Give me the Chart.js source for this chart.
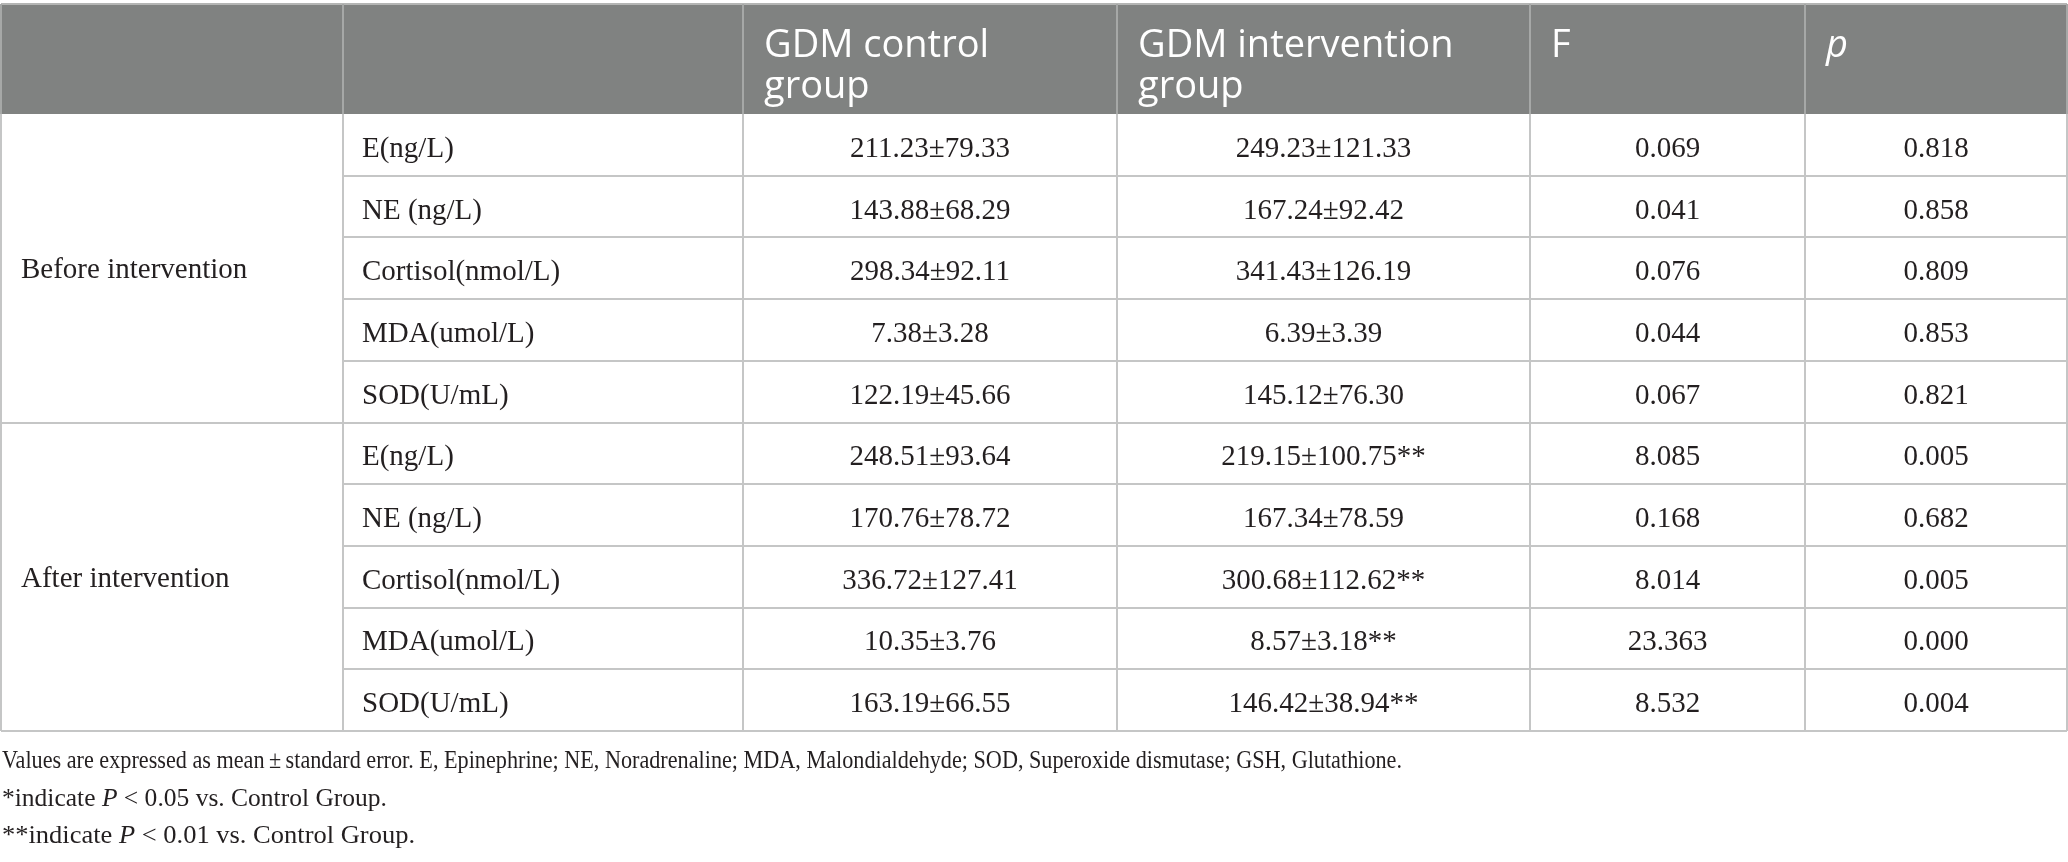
<!DOCTYPE html>
<html>
<head>
<meta charset="utf-8">
<title>GDM control vs intervention group</title>
<script src="https://cdn.jsdelivr.net/npm/chart.js@4.4.1/dist/chart.umd.min.js"></script>
<style>
  html, body { margin: 0; padding: 0; background: #ffffff; }
  #wrap { width: 2068px; height: 862px; }
</style>
</head>
<body>
<div id="wrap"><canvas id="tableChart" width="2068" height="862"></canvas></div>
<script>
// Table data
const headerLabels = [[""], [""], ["GDM control", "group"], ["GDM intervention", "group"], ["F"], ["p"]];
const periods = ["Before intervention", "After intervention"];
const indicators = ["E(ng/L)", "NE (ng/L)", "Cortisol(nmol/L)", "MDA(umol/L)", "SOD(U/mL)"];

// Before intervention
const controlMeanBefore = [211.23, 143.88, 298.34, 7.38, 122.19];
const controlSeBefore = [79.33, 68.29, 92.11, 3.28, 45.66];
const interventionMeanBefore = [249.23, 167.24, 341.43, 6.39, 145.12];
const interventionSeBefore = [121.33, 92.42, 126.19, 3.39, 76.30];
const interventionStarsBefore = ["", "", "", "", ""];
const fBefore = [0.069, 0.041, 0.076, 0.044, 0.067];
const pBefore = [0.818, 0.858, 0.809, 0.853, 0.821];

// After intervention
const controlMeanAfter = [248.51, 170.76, 336.72, 10.35, 163.19];
const controlSeAfter = [93.64, 78.72, 127.41, 3.76, 66.55];
const interventionMeanAfter = [219.15, 167.34, 300.68, 8.57, 146.42];
const interventionSeAfter = [100.75, 78.59, 112.62, 3.18, 38.94];
const interventionStarsAfter = ["**", "", "**", "**", "**"];
const fAfter = [8.085, 0.168, 8.014, 23.363, 8.532];
const pAfter = [0.005, 0.682, 0.005, 0.000, 0.004];

// Footnotes (runs with italic flag)
const footnotes = [
  [{ t: "Values are expressed as mean\u2009\u00b1\u2009standard error. E, Epinephrine; NE, Noradrenaline; MDA, Malondialdehyde; SOD, Superoxide dismutase; GSH, Glutathione." }],
  [{ t: "*indicate " }, { t: "P", i: true }, { t: " < 0.05 vs. Control Group." }],
  [{ t: "**indicate " }, { t: "P", i: true }, { t: " < 0.01 vs. Control Group." }]
];

// Layout (in scale units)
const colEdges = [1, 343, 743, 1117, 1530, 1805, 2067];
const headerTop = 4;
const headerBottom = 114;
const rowHeight = 61.7;
const headerBaselines = [57, 98];
const footBaselines = [768, 806, 843];
const footWidths = [1400, 385, 413];

const serif = '"Liberation Serif", "Times New Roman", serif';
const sans = '"Open Sans", "Noto Sans", sans-serif';

function pm(mean, se, stars) {
  return mean.toFixed(2) + "\u00b1" + se.toFixed(2) + stars;
}

// Build body rows per period
const sections = [
  { control: controlMeanBefore.map((m, i) => pm(m, controlSeBefore[i], "")),
    interv: interventionMeanBefore.map((m, i) => pm(m, interventionSeBefore[i], interventionStarsBefore[i])),
    f: fBefore, p: pBefore },
  { control: controlMeanAfter.map((m, i) => pm(m, controlSeAfter[i], "")),
    interv: interventionMeanAfter.map((m, i) => pm(m, interventionSeAfter[i], interventionStarsAfter[i])),
    f: fAfter, p: pAfter }
];

function hLine(ctx, x, y, x0, x1, yv, color) {
  const py = Math.round(y.getPixelForValue(yv));
  ctx.strokeStyle = color;
  ctx.lineWidth = 2;
  ctx.beginPath();
  ctx.moveTo(x.getPixelForValue(x0), py);
  ctx.lineTo(x.getPixelForValue(x1), py);
  ctx.stroke();
}

function vLine(ctx, x, y, xv, y0, y1, color) {
  const px = Math.round(x.getPixelForValue(xv));
  ctx.strokeStyle = color;
  ctx.lineWidth = 2;
  ctx.beginPath();
  ctx.moveTo(px, y.getPixelForValue(y0));
  ctx.lineTo(px, y.getPixelForValue(y1));
  ctx.stroke();
}

// Plugin that draws the table through the chart scales
const tablePlugin = {
  id: "tablePlugin",
  afterDraw(chart) {
    const ctx = chart.ctx;
    const x = chart.scales.x;
    const y = chart.scales.y;
    const nRows = periods.length * indicators.length;
    const bodyBottom = headerBottom + nRows * rowHeight;
    ctx.save();

    // header band
    ctx.fillStyle = "#808281";
    const hx0 = x.getPixelForValue(colEdges[0]);
    const hx1 = x.getPixelForValue(colEdges[colEdges.length - 1]);
    const hy0 = y.getPixelForValue(headerTop);
    const hy1 = y.getPixelForValue(headerBottom);
    ctx.fillRect(hx0, hy0, hx1 - hx0, hy1 - hy0);
    hLine(ctx, x, y, colEdges[0], colEdges[6], headerTop, "#b4b5b4");
    for (let c = 0; c < colEdges.length; c++) {
      vLine(ctx, x, y, colEdges[c], headerTop, headerBottom, "#a6a8a7");
    }

    // header labels
    ctx.fillStyle = "#ffffff";
    ctx.textAlign = "left";
    ctx.textBaseline = "alphabetic";
    headerLabels.forEach((lines, c) => {
      ctx.font = (c === 5 ? "italic " : "") + "38px " + sans;
      lines.forEach((line, k) => {
        ctx.fillText(line, x.getPixelForValue(colEdges[c] + 21), y.getPixelForValue(headerBaselines[k]));
      });
    });

    // body grid
    const grid = "#c5c6c6";
    for (let r = 1; r <= nRows; r++) {
      const yv = headerBottom + r * rowHeight;
      const full = r % indicators.length === 0;
      hLine(ctx, x, y, full ? colEdges[0] : colEdges[1], colEdges[6], yv, grid);
    }
    for (let c = 0; c < colEdges.length; c++) {
      vLine(ctx, x, y, colEdges[c], headerBottom, bodyBottom, grid);
    }

    // body text
    ctx.fillStyle = "#231f20";
    ctx.font = "29px " + serif;
    periods.forEach((period, s) => {
      const secTop = headerBottom + s * indicators.length * rowHeight;
      const secMid = secTop + indicators.length * rowHeight / 2;
      ctx.textAlign = "left";
      ctx.fillText(period, x.getPixelForValue(colEdges[0] + 20), y.getPixelForValue(secMid + 10));
      const sec = sections[s];
      indicators.forEach((name, r) => {
        const base = y.getPixelForValue(secTop + r * rowHeight + rowHeight / 2 + 12);
        ctx.textAlign = "left";
        ctx.fillText(name, x.getPixelForValue(colEdges[1] + 19), base);
        ctx.textAlign = "center";
        const cells = [sec.control[r], sec.interv[r], sec.f[r].toFixed(3), sec.p[r].toFixed(3)];
        cells.forEach((txt, k) => {
          const mid = (colEdges[k + 2] + colEdges[k + 3]) / 2;
          ctx.fillText(txt, x.getPixelForValue(mid), base);
        });
      });
    });

    // footnotes, each line fitted to the width it has in the source
    ctx.textAlign = "left";
    footnotes.forEach((runs, k) => {
      let total = 0;
      runs.forEach(run => {
        ctx.font = (run.i ? "italic " : "") + "25px " + serif;
        total += ctx.measureText(run.t).width;
      });
      const x0 = x.getPixelForValue(2);
      const target = x.getPixelForValue(2 + footWidths[k]) - x0;
      const py = y.getPixelForValue(footBaselines[k]);
      ctx.save();
      ctx.translate(x0, py);
      ctx.scale(target / total, 1);
      let px = 0;
      runs.forEach(run => {
        ctx.font = (run.i ? "italic " : "") + "25px " + serif;
        ctx.fillText(run.t, px, 0);
        px += ctx.measureText(run.t).width;
      });
      ctx.restore();
    });

    ctx.restore();
  }
};

const ctx = document.getElementById("tableChart").getContext("2d");
const tableChart = new Chart(ctx, {
  type: "scatter",
  data: { datasets: [{ data: [], pointRadius: 0 }] },
  options: {
    responsive: false,
    devicePixelRatio: 1,
    animation: false,
    events: [],
    layout: { padding: 0 },
    plugins: { legend: { display: false }, tooltip: { enabled: false } },
    scales: {
      x: { type: "linear", min: 0, max: 2068, display: false },
      y: { type: "linear", min: 0, max: 862, reverse: true, display: false }
    }
  },
  plugins: [tablePlugin]
});
</script>
</body>
</html>
